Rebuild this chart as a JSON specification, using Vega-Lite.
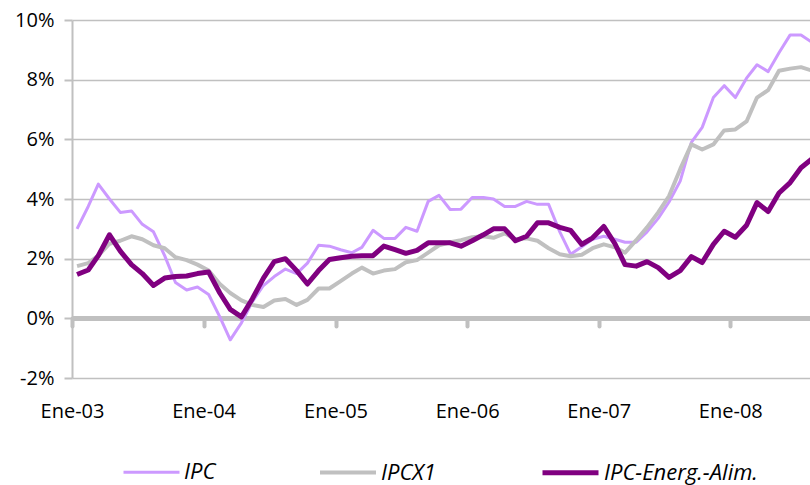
{
  "$schema": "https://vega.github.io/schema/vega-lite/v6.json",
  "width": 738,
  "height": 358,
  "autosize": {"type": "none"},
  "padding": {"left": 72, "top": 20, "right": 0, "bottom": 107},
  "background": "white",
  "config": {"view": {"stroke": null}, "font": "Open Sans"},
  "data": {"values": [
    {"d":"2003-01-15","s":"IPC","v":3.0},{"d":"2003-02-15","s":"IPC","v":3.75},{"d":"2003-03-15","s":"IPC","v":4.5},{"d":"2003-04-15","s":"IPC","v":4.0},{"d":"2003-05-15","s":"IPC","v":3.55},{"d":"2003-06-15","s":"IPC","v":3.6},{"d":"2003-07-15","s":"IPC","v":3.15},{"d":"2003-08-15","s":"IPC","v":2.9},{"d":"2003-09-15","s":"IPC","v":2.1},{"d":"2003-10-15","s":"IPC","v":1.2},{"d":"2003-11-15","s":"IPC","v":0.95},{"d":"2003-12-15","s":"IPC","v":1.05},
    {"d":"2004-01-15","s":"IPC","v":0.8},{"d":"2004-02-15","s":"IPC","v":0.05},{"d":"2004-03-15","s":"IPC","v":-0.72},{"d":"2004-04-15","s":"IPC","v":-0.15},{"d":"2004-05-15","s":"IPC","v":0.55},{"d":"2004-06-15","s":"IPC","v":1.1},{"d":"2004-07-15","s":"IPC","v":1.4},{"d":"2004-08-15","s":"IPC","v":1.65},{"d":"2004-09-15","s":"IPC","v":1.5},{"d":"2004-10-15","s":"IPC","v":1.85},{"d":"2004-11-15","s":"IPC","v":2.45},{"d":"2004-12-15","s":"IPC","v":2.42},
    {"d":"2005-01-15","s":"IPC","v":2.3},{"d":"2005-02-15","s":"IPC","v":2.2},{"d":"2005-03-15","s":"IPC","v":2.38},{"d":"2005-04-15","s":"IPC","v":2.95},{"d":"2005-05-15","s":"IPC","v":2.68},{"d":"2005-06-15","s":"IPC","v":2.68},{"d":"2005-07-15","s":"IPC","v":3.05},{"d":"2005-08-15","s":"IPC","v":2.92},{"d":"2005-09-15","s":"IPC","v":3.92},{"d":"2005-10-15","s":"IPC","v":4.12},{"d":"2005-11-15","s":"IPC","v":3.65},{"d":"2005-12-15","s":"IPC","v":3.66},
    {"d":"2006-01-15","s":"IPC","v":4.05},{"d":"2006-02-15","s":"IPC","v":4.05},{"d":"2006-03-15","s":"IPC","v":4.0},{"d":"2006-04-15","s":"IPC","v":3.75},{"d":"2006-05-15","s":"IPC","v":3.75},{"d":"2006-06-15","s":"IPC","v":3.92},{"d":"2006-07-15","s":"IPC","v":3.82},{"d":"2006-08-15","s":"IPC","v":3.82},{"d":"2006-09-15","s":"IPC","v":2.9},{"d":"2006-10-15","s":"IPC","v":2.15},{"d":"2006-11-15","s":"IPC","v":2.4},{"d":"2006-12-15","s":"IPC","v":2.65},
    {"d":"2007-01-15","s":"IPC","v":2.75},{"d":"2007-02-15","s":"IPC","v":2.65},{"d":"2007-03-15","s":"IPC","v":2.55},{"d":"2007-04-15","s":"IPC","v":2.55},{"d":"2007-05-15","s":"IPC","v":2.9},{"d":"2007-06-15","s":"IPC","v":3.35},{"d":"2007-07-15","s":"IPC","v":3.9},{"d":"2007-08-15","s":"IPC","v":4.6},{"d":"2007-09-15","s":"IPC","v":5.9},{"d":"2007-10-15","s":"IPC","v":6.4},{"d":"2007-11-15","s":"IPC","v":7.4},{"d":"2007-12-15","s":"IPC","v":7.8},
    {"d":"2008-01-15","s":"IPC","v":7.4},{"d":"2008-02-15","s":"IPC","v":8.05},{"d":"2008-03-15","s":"IPC","v":8.5},{"d":"2008-04-15","s":"IPC","v":8.27},{"d":"2008-05-15","s":"IPC","v":8.9},{"d":"2008-06-15","s":"IPC","v":9.5},{"d":"2008-07-15","s":"IPC","v":9.5},{"d":"2008-08-15","s":"IPC","v":9.25},

    {"d":"2003-01-15","s":"IPCX1","v":1.75},{"d":"2003-02-15","s":"IPCX1","v":1.85},{"d":"2003-03-15","s":"IPCX1","v":2.1},{"d":"2003-04-15","s":"IPCX1","v":2.5},{"d":"2003-05-15","s":"IPCX1","v":2.6},{"d":"2003-06-15","s":"IPCX1","v":2.75},{"d":"2003-07-15","s":"IPCX1","v":2.65},{"d":"2003-08-15","s":"IPCX1","v":2.45},{"d":"2003-09-15","s":"IPCX1","v":2.35},{"d":"2003-10-15","s":"IPCX1","v":2.05},{"d":"2003-11-15","s":"IPCX1","v":1.95},{"d":"2003-12-15","s":"IPCX1","v":1.8},
    {"d":"2004-01-15","s":"IPCX1","v":1.6},{"d":"2004-02-15","s":"IPCX1","v":1.15},{"d":"2004-03-15","s":"IPCX1","v":0.85},{"d":"2004-04-15","s":"IPCX1","v":0.6},{"d":"2004-05-15","s":"IPCX1","v":0.45},{"d":"2004-06-15","s":"IPCX1","v":0.38},{"d":"2004-07-15","s":"IPCX1","v":0.6},{"d":"2004-08-15","s":"IPCX1","v":0.65},{"d":"2004-09-15","s":"IPCX1","v":0.45},{"d":"2004-10-15","s":"IPCX1","v":0.62},{"d":"2004-11-15","s":"IPCX1","v":1.0},{"d":"2004-12-15","s":"IPCX1","v":1.0},
    {"d":"2005-01-15","s":"IPCX1","v":1.25},{"d":"2005-02-15","s":"IPCX1","v":1.5},{"d":"2005-03-15","s":"IPCX1","v":1.7},{"d":"2005-04-15","s":"IPCX1","v":1.5},{"d":"2005-05-15","s":"IPCX1","v":1.6},{"d":"2005-06-15","s":"IPCX1","v":1.65},{"d":"2005-07-15","s":"IPCX1","v":1.88},{"d":"2005-08-15","s":"IPCX1","v":1.95},{"d":"2005-09-15","s":"IPCX1","v":2.2},{"d":"2005-10-15","s":"IPCX1","v":2.45},{"d":"2005-11-15","s":"IPCX1","v":2.55},{"d":"2005-12-15","s":"IPCX1","v":2.62},
    {"d":"2006-01-15","s":"IPCX1","v":2.72},{"d":"2006-02-15","s":"IPCX1","v":2.75},{"d":"2006-03-15","s":"IPCX1","v":2.7},{"d":"2006-04-15","s":"IPCX1","v":2.85},{"d":"2006-05-15","s":"IPCX1","v":2.65},{"d":"2006-06-15","s":"IPCX1","v":2.68},{"d":"2006-07-15","s":"IPCX1","v":2.6},{"d":"2006-08-15","s":"IPCX1","v":2.35},{"d":"2006-09-15","s":"IPCX1","v":2.15},{"d":"2006-10-15","s":"IPCX1","v":2.08},{"d":"2006-11-15","s":"IPCX1","v":2.13},{"d":"2006-12-15","s":"IPCX1","v":2.35},
    {"d":"2007-01-15","s":"IPCX1","v":2.48},{"d":"2007-02-15","s":"IPCX1","v":2.38},{"d":"2007-03-15","s":"IPCX1","v":2.2},{"d":"2007-04-15","s":"IPCX1","v":2.62},{"d":"2007-05-15","s":"IPCX1","v":3.05},{"d":"2007-06-15","s":"IPCX1","v":3.55},{"d":"2007-07-15","s":"IPCX1","v":4.1},{"d":"2007-08-15","s":"IPCX1","v":5.0},{"d":"2007-09-15","s":"IPCX1","v":5.83},{"d":"2007-10-15","s":"IPCX1","v":5.66},{"d":"2007-11-15","s":"IPCX1","v":5.83},{"d":"2007-12-15","s":"IPCX1","v":6.3},
    {"d":"2008-01-15","s":"IPCX1","v":6.33},{"d":"2008-02-15","s":"IPCX1","v":6.6},{"d":"2008-03-15","s":"IPCX1","v":7.4},{"d":"2008-04-15","s":"IPCX1","v":7.65},{"d":"2008-05-15","s":"IPCX1","v":8.3},{"d":"2008-06-15","s":"IPCX1","v":8.37},{"d":"2008-07-15","s":"IPCX1","v":8.42},{"d":"2008-08-15","s":"IPCX1","v":8.3},

    {"d":"2003-01-15","s":"IPC-Energ.-Alim.","v":1.47},{"d":"2003-02-15","s":"IPC-Energ.-Alim.","v":1.62},{"d":"2003-03-15","s":"IPC-Energ.-Alim.","v":2.1},{"d":"2003-04-15","s":"IPC-Energ.-Alim.","v":2.8},{"d":"2003-05-15","s":"IPC-Energ.-Alim.","v":2.25},{"d":"2003-06-15","s":"IPC-Energ.-Alim.","v":1.8},{"d":"2003-07-15","s":"IPC-Energ.-Alim.","v":1.5},{"d":"2003-08-15","s":"IPC-Energ.-Alim.","v":1.1},{"d":"2003-09-15","s":"IPC-Energ.-Alim.","v":1.35},{"d":"2003-10-15","s":"IPC-Energ.-Alim.","v":1.4},{"d":"2003-11-15","s":"IPC-Energ.-Alim.","v":1.42},{"d":"2003-12-15","s":"IPC-Energ.-Alim.","v":1.5},
    {"d":"2004-01-15","s":"IPC-Energ.-Alim.","v":1.55},{"d":"2004-02-15","s":"IPC-Energ.-Alim.","v":0.85},{"d":"2004-03-15","s":"IPC-Energ.-Alim.","v":0.3},{"d":"2004-04-15","s":"IPC-Energ.-Alim.","v":0.05},{"d":"2004-05-15","s":"IPC-Energ.-Alim.","v":0.65},{"d":"2004-06-15","s":"IPC-Energ.-Alim.","v":1.35},{"d":"2004-07-15","s":"IPC-Energ.-Alim.","v":1.9},{"d":"2004-08-15","s":"IPC-Energ.-Alim.","v":2.0},{"d":"2004-09-15","s":"IPC-Energ.-Alim.","v":1.6},{"d":"2004-10-15","s":"IPC-Energ.-Alim.","v":1.15},{"d":"2004-11-15","s":"IPC-Energ.-Alim.","v":1.6},{"d":"2004-12-15","s":"IPC-Energ.-Alim.","v":1.97},
    {"d":"2005-01-15","s":"IPC-Energ.-Alim.","v":2.03},{"d":"2005-02-15","s":"IPC-Energ.-Alim.","v":2.08},{"d":"2005-03-15","s":"IPC-Energ.-Alim.","v":2.1},{"d":"2005-04-15","s":"IPC-Energ.-Alim.","v":2.1},{"d":"2005-05-15","s":"IPC-Energ.-Alim.","v":2.42},{"d":"2005-06-15","s":"IPC-Energ.-Alim.","v":2.3},{"d":"2005-07-15","s":"IPC-Energ.-Alim.","v":2.18},{"d":"2005-08-15","s":"IPC-Energ.-Alim.","v":2.28},{"d":"2005-09-15","s":"IPC-Energ.-Alim.","v":2.53},{"d":"2005-10-15","s":"IPC-Energ.-Alim.","v":2.53},{"d":"2005-11-15","s":"IPC-Energ.-Alim.","v":2.53},{"d":"2005-12-15","s":"IPC-Energ.-Alim.","v":2.42},
    {"d":"2006-01-15","s":"IPC-Energ.-Alim.","v":2.6},{"d":"2006-02-15","s":"IPC-Energ.-Alim.","v":2.8},{"d":"2006-03-15","s":"IPC-Energ.-Alim.","v":3.0},{"d":"2006-04-15","s":"IPC-Energ.-Alim.","v":3.0},{"d":"2006-05-15","s":"IPC-Energ.-Alim.","v":2.6},{"d":"2006-06-15","s":"IPC-Energ.-Alim.","v":2.75},{"d":"2006-07-15","s":"IPC-Energ.-Alim.","v":3.2},{"d":"2006-08-15","s":"IPC-Energ.-Alim.","v":3.2},{"d":"2006-09-15","s":"IPC-Energ.-Alim.","v":3.05},{"d":"2006-10-15","s":"IPC-Energ.-Alim.","v":2.95},{"d":"2006-11-15","s":"IPC-Energ.-Alim.","v":2.48},{"d":"2006-12-15","s":"IPC-Energ.-Alim.","v":2.7},
    {"d":"2007-01-15","s":"IPC-Energ.-Alim.","v":3.08},{"d":"2007-02-15","s":"IPC-Energ.-Alim.","v":2.5},{"d":"2007-03-15","s":"IPC-Energ.-Alim.","v":1.8},{"d":"2007-04-15","s":"IPC-Energ.-Alim.","v":1.75},{"d":"2007-05-15","s":"IPC-Energ.-Alim.","v":1.9},{"d":"2007-06-15","s":"IPC-Energ.-Alim.","v":1.7},{"d":"2007-07-15","s":"IPC-Energ.-Alim.","v":1.37},{"d":"2007-08-15","s":"IPC-Energ.-Alim.","v":1.6},{"d":"2007-09-15","s":"IPC-Energ.-Alim.","v":2.07},{"d":"2007-10-15","s":"IPC-Energ.-Alim.","v":1.87},{"d":"2007-11-15","s":"IPC-Energ.-Alim.","v":2.48},{"d":"2007-12-15","s":"IPC-Energ.-Alim.","v":2.92},
    {"d":"2008-01-15","s":"IPC-Energ.-Alim.","v":2.72},{"d":"2008-02-15","s":"IPC-Energ.-Alim.","v":3.12},{"d":"2008-03-15","s":"IPC-Energ.-Alim.","v":3.88},{"d":"2008-04-15","s":"IPC-Energ.-Alim.","v":3.58},{"d":"2008-05-15","s":"IPC-Energ.-Alim.","v":4.2},{"d":"2008-06-15","s":"IPC-Energ.-Alim.","v":4.55},{"d":"2008-07-15","s":"IPC-Energ.-Alim.","v":5.05},{"d":"2008-08-15","s":"IPC-Energ.-Alim.","v":5.35}
  ]},
  "mark": {"type": "line", "clip": true, "strokeJoin": "round", "strokeCap": "butt"},
  "encoding": {
    "x": {
      "field": "d", "type": "temporal",
      "scale": {"type": "utc", "domain": [{"year": 2003, "month": 1, "date": 1, "utc": true}, {"year": 2008, "month": 8, "date": 9, "utc": true}], "nice": false},
      "axis": {
        "title": null, "grid": false, "orient": "bottom", "offset": -60,
        "values": [{"year": 2003, "month": 1, "date": 1, "utc": true}, {"year": 2004, "month": 1, "date": 1, "utc": true}, {"year": 2005, "month": 1, "date": 1, "utc": true}, {"year": 2006, "month": 1, "date": 1, "utc": true}, {"year": 2007, "month": 1, "date": 1, "utc": true}, {"year": 2008, "month": 1, "date": 1, "utc": true}],
        "labelExpr": "'Ene-' + utcFormat(datum.value, '%y')",
        "domainColor": "#c0c0c0", "domainWidth": 5,
        "tickColor": "#c0c0c0", "tickWidth": 4, "tickSize": 8, "tickCap": "round",
        "labelPadding": 75, "labelFontSize": 20, "labelColor": "black", "labelFont": "Open Sans", "labelFlush": false, "labelOverlap": false
      }
    },
    "y": {
      "field": "v", "type": "quantitative",
      "scale": {"domain": [-2, 10], "nice": false, "zero": false},
      "axis": {
        "title": null, "values": [-2, 0, 2, 4, 6, 8, 10],
        "labelExpr": "datum.value + '%'",
        "grid": true, "gridColor": "#c0c0c0", "gridWidth": 1.5,
        "domainColor": "#c0c0c0", "domainWidth": 2,
        "tickColor": "#c0c0c0", "tickWidth": 2, "tickSize": 8,
        "labelPadding": 10, "labelFontSize": 20, "labelColor": "black", "labelFont": "Open Sans"
      }
    },
    "color": {
      "field": "s", "type": "nominal",
      "scale": {"domain": ["IPC", "IPCX1", "IPC-Energ.-Alim."], "range": ["#cc99ff", "#c0c0c0", "#800080"]},
      "legend": {
        "title": null, "orient": "none", "legendX": 50, "legendY": 422, "direction": "horizontal",
        "symbolType": "stroke", "symbolSize": 3136, "labelOffset": 3, "columnPadding": 96, "padding": 0,
        "labelFontSize": 22, "labelFontStyle": "italic", "labelFont": "Open Sans", "labelColor": "black"
      }
    },
    "strokeWidth": {
      "field": "s", "type": "nominal",
      "scale": {"domain": ["IPC", "IPCX1", "IPC-Energ.-Alim."], "range": [3, 5, 5]},
      "legend": {
        "title": null, "orient": "none", "legendX": 50, "legendY": 422, "direction": "horizontal",
        "symbolType": "stroke", "symbolSize": 3136, "labelOffset": 3, "columnPadding": 96, "padding": 0,
        "labelFontSize": 22, "labelFontStyle": "italic", "labelFont": "Open Sans", "labelColor": "black"
      }
    }
  }
}
